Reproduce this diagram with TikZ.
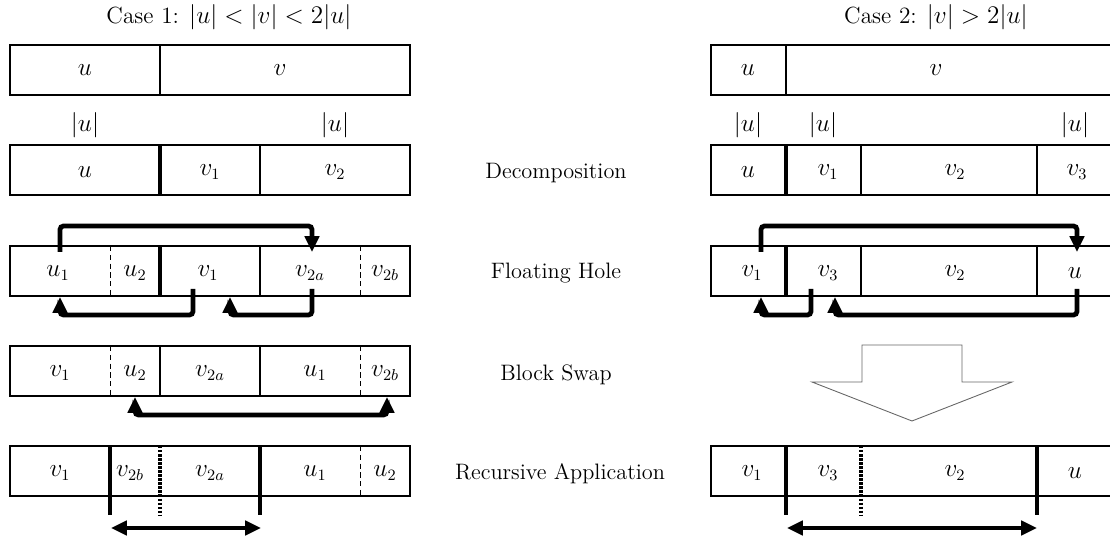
\documentclass[tikz,border=0pt]{standalone}
\usepackage{amsmath}
\usepackage{amssymb}
\usetikzlibrary{arrows.meta}

\tikzset{
    hop/.style={line width=2.7pt,rounded corners=2pt,-{Triangle[length=9pt,width=8pt]}},
    swp/.style={line width=2.7pt,rounded corners=2pt,{Triangle[length=9pt,width=8pt]}-{Triangle[length=9pt,width=8pt]}},
    thick bar/.style={line width=1.8pt},
    dot bar/.style={line width=1.8pt,dash pattern=on 1.4pt off 0.9pt},
    thin bar/.style={line width=0.6pt},
    dash bar/.style={line width=0.5pt,dash pattern=on 3pt off 2pt}
}

\begin{document}
\begin{tikzpicture}[x=0.02cm,y=-0.02cm,line width=0.6pt]
                \clip (0,0) rectangle (1110,540);
                \useasboundingbox (0,0) rectangle (1110,540);
                % titles and step names
                \begin{scope}[every node/.style={font=\fontsize{13.3}{16}\selectfont}]
                    \node (T1) at (229,17) {Case 1: $|u| < |v| < 2|u|$};
                    \node (T2) at (936,17) {Case 2: $|v| > 2|u|$};
                \end{scope}
                \begin{scope}[every node/.style={font=\fontsize{12.7}{15}\selectfont}]
                    \node (S1) at (556,173) {Decomposition};
                    \node (S2) at (556,273) {Floating Hole};
                    \node (S3) at (556,375) {Block Swap};
                    \node (S4) at (560,474) {Recursive Application};
                \end{scope}
                % boxes, case 1
                \draw (10,45) rectangle (410,95);
                \draw[thin bar] (160,45) -- (160,95);
                \draw (10,145) rectangle (410,195);
                \draw[thick bar] (160,145) -- (160,195);
                \draw[thin bar] (260,145) -- (260,195);
                \draw (10,246) rectangle (410,296);
                \draw[dash bar] (110,246) -- (110,296);
                \draw[thick bar] (160,246) -- (160,296);
                \draw[thin bar] (260,246) -- (260,296);
                \draw[dash bar] (360,246) -- (360,296);
                \draw (10,346) rectangle (410,396);
                \draw[dash bar] (110,346) -- (110,396);
                \draw[thin bar] (160,346) -- (160,396);
                \draw[thin bar] (260,346) -- (260,396);
                \draw[dash bar] (360,346) -- (360,396);
                \draw (10,446) rectangle (410,496);
                \draw[thick bar] (110,446) -- (110,515);
                \draw[dot bar] (160,446) -- (160,515);
                \draw[thick bar] (260,446) -- (260,515);
                \draw[dash bar] (360,446) -- (360,496);
                % boxes, case 2
                \draw (711,45) rectangle (1116,95);
                \draw[thin bar] (786,45) -- (786,95);
                \draw (711,145) rectangle (1116,195);
                \draw[thick bar] (786,145) -- (786,195);
                \draw[thin bar] (861,145) -- (861,195);
                \draw[thin bar] (1037,145) -- (1037,195);
                \draw (711,246) rectangle (1116,296);
                \draw[thick bar] (786,246) -- (786,296);
                \draw[thin bar] (861,246) -- (861,296);
                \draw[thin bar] (1037,246) -- (1037,296);
                \draw (711,446) rectangle (1116,496);
                \draw[thick bar] (786,446) -- (786,515);
                \draw[dot bar] (861,446) -- (861,515);
                \draw[thick bar] (1037,446) -- (1037,515);
                % big arrow
                \draw[gray!80!black,line width=0.5pt] (862,345) -- (962,345) -- (962,382) -- (1012,382)
                    -- (912,421) -- (812,382) -- (862,382) -- cycle;
                % cell labels
                \begin{scope}[every node/.style={font=\fontsize{13.3}{16}\selectfont}]
                    \node (A0) at (85,70) {$u$};
                    \node (B0) at (280,70) {$v$};
                    \node (L1) at (85,125) {$|u|$};
                    \node (L2) at (335,125) {$|u|$};
                    \node (A1) at (85,172) {$u$};
                    \node (B1) at (210,172) {$v_1$};
                    \node (C1) at (335,172) {$v_2$};
                    \node (A2) at (58,273) {$u_1$};
                    \node (B2) at (135,273) {$u_2$};
                    \node (C2) at (208,273) {$v_1$};
                    \node (D2) at (310,273) {$v_{2a}$};
                    \node (E2) at (385,273) {$v_{2b}$};
                    \node (A3) at (60,373) {$v_1$};
                    \node (B3) at (135,373) {$u_2$};
                    \node (C3) at (210,373) {$v_{2a}$};
                    \node (D3) at (315,373) {$u_1$};
                    \node (E3) at (385,373) {$v_{2b}$};
                    \node (A4) at (60,473) {$v_1$};
                    \node (B4) at (130,473) {$v_{2b}$};
                    \node (C4) at (210,473) {$v_{2a}$};
                    \node (D4) at (315,473) {$u_1$};
                    \node (E4) at (385,473) {$u_2$};
                    \node (F0) at (748,70) {$u$};
                    \node (G0) at (936,70) {$v$};
                    \node (M1) at (748,125) {$|u|$};
                    \node (M2) at (823,125) {$|u|$};
                    \node (M3) at (1075,125) {$|u|$};
                    \node (F1) at (748,172) {$u$};
                    \node (G1) at (828,172) {$v_1$};
                    \node (H1) at (955,172) {$v_2$};
                    \node (K1) at (1077,172) {$v_3$};
                    \node (F2) at (752,273) {$v_1$};
                    \node (G2) at (828,273) {$v_3$};
                    \node (H2) at (955,273) {$v_2$};
                    \node (K2) at (1075,273) {$u$};
                    \node (F4) at (752,473) {$v_1$};
                    \node (G4) at (828,473) {$v_3$};
                    \node (H4) at (955,473) {$v_2$};
                    \node (K4) at (1075,473) {$u$};
                \end{scope}
                % arrow ends
                \coordinate (p1) at (60,252);
                \coordinate (q1) at (312,252);
                \coordinate (p2) at (193,289);
                \coordinate (q2) at (60,297);
                \coordinate (p3) at (312,289);
                \coordinate (q3) at (230,297);
                \coordinate (p4) at (135,397);
                \coordinate (q4) at (387,397);
                \coordinate (p5) at (111,528);
                \coordinate (q5) at (261,528);
                \coordinate (r1) at (761,252);
                \coordinate (s1) at (1077,252);
                \coordinate (r2) at (811,289);
                \coordinate (s2) at (761,297);
                \coordinate (r3) at (1077,289);
                \coordinate (s3) at (835,297);
                \coordinate (r5) at (787,528);
                \coordinate (s5) at (1037,528);
                % moves
                \draw[hop] (p1) -- (p1 |- 0,226) -| (q1);
                \draw[hop] (p2) -- (p2 |- 0,315) -| (q2);
                \draw[hop] (p3) -- (p3 |- 0,315) -| (q3);
                \draw[swp] (p4) -- (p4 |- 0,415) -| (q4);
                \draw[swp] (p5) -- (q5);
                \draw[hop] (r1) -- (r1 |- 0,226) -| (s1);
                \draw[hop] (r2) -- (r2 |- 0,315) -| (s2);
                \draw[hop] (r3) -- (r3 |- 0,315) -| (s3);
                \draw[swp] (r5) -- (s5);
            \end{tikzpicture}
\end{document}
